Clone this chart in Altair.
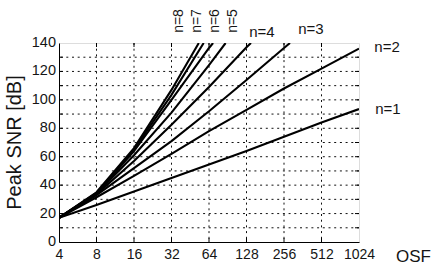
import altair as alt
import pandas as pd

# ---- data ----
osf_ticks = [4, 8, 16, 32, 64, 128, 256, 512, 1024]
y_ticks = [0, 20, 40, 60, 80, 100, 120, 140]
y_grid = [10, 20, 30, 40, 50, 60, 70, 80, 90, 100, 110, 120, 130]
x_grid = [8, 16, 32, 64, 128, 256, 512]

n1_osf = [4, 8, 16, 32, 64, 128, 256, 512, 1024]
n1_snr = [17, 26, 35.5, 45, 54.5, 64, 74, 84, 93.5]
n2_osf = [4, 8, 16, 32, 64, 128, 256, 512, 1024]
n2_snr = [17, 31.5, 46.5, 62, 78, 93, 108, 122, 136]
n3_osf = [4, 8, 16, 32, 64, 128, 256, 286]
n3_snr = [17, 33, 52, 71, 92, 114, 136.5, 140]
n4_osf = [4, 8, 16, 32, 64, 128, 139]
n4_snr = [17, 33.5, 57, 82.5, 109, 137, 140]
n5_osf = [4, 8, 16, 32, 64, 87]
n5_snr = [17, 34, 61, 91, 124.5, 140]
n6_osf = [4, 8, 16, 32, 64, 69]
n6_snr = [17, 34, 64, 100, 136.5, 140]
n7_osf = [4, 8, 16, 32, 58]
n7_snr = [17, 34.5, 65, 103.5, 140]
n8_osf = [4, 8, 16, 32, 53]
n8_snr = [17, 35, 66, 107, 140]

# label anchors in data units (OSF, dB)
hlab_text = ["n=1", "n=2", "n=3", "n=4"]
hlab_osf = [1746, 1720, 421, 170]
hlab_snr = [93.6, 137.2, 149.8, 147.7]
vlab_text = ["n=5", "n=6", "n=7", "n=8"]
vlab_osf = [99.7, 71.5, 51.3, 36.8]
vlab_snr = [155.5, 155.5, 155.5, 155.5]

series = [
    (1, n1_osf, n1_snr), (2, n2_osf, n2_snr), (3, n3_osf, n3_snr),
    (4, n4_osf, n4_snr), (5, n5_osf, n5_snr), (6, n6_osf, n6_snr),
    (7, n7_osf, n7_snr), (8, n8_osf, n8_snr),
]
rows = []
for n, xs, ys in series:
    for i, (x, y) in enumerate(zip(xs, ys)):
        rows.append({"n": n, "osf": x, "snr": y, "i": i})
df = pd.DataFrame(rows)

hlab = pd.DataFrame({"t": hlab_text, "osf": hlab_osf, "snr": hlab_snr})
vlab = pd.DataFrame({"t": vlab_text, "osf": vlab_osf, "snr": vlab_snr})
xg = pd.DataFrame({"osf": x_grid})
yg = pd.DataFrame({"snr": y_grid})
yl = pd.DataFrame({"snr": y_ticks, "t": [str(v) for v in y_ticks]})

FONT = "Liberation Sans"
INK = "#151515"

xscale = alt.Scale(type="log", base=2, domain=[4, 1024], nice=False)
yscale = alt.Scale(domain=[0, 140], nice=False)

xaxis = alt.Axis(
    values=osf_ticks, format="d", title="OSF", grid=False,
    ticks=False, labelPadding=5, labelFontSize=14, labelFont=FONT,
    labelColor=INK, domainColor="black", labelOverlap=False, labelFlush=False,
    titleFont=FONT, titleFontSize=17, titleFontWeight="normal", titleColor=INK,
    titleAnchor="start", titleAlign="center", titleBaseline="middle",
    titleX=354, titleY=14,
)
yaxis = alt.Axis(
    values=y_ticks, title="Peak SNR [dB]", grid=False, labels=False,
    ticks=False, domainColor="black",
    titleFont=FONT, titleFontSize=20, titleFontWeight="normal", titleColor=INK,
    titleX=-45, titleY=99, titleAlign="center", titleBaseline="middle",
)

grid_style = dict(color="#111", strokeWidth=1, strokeDash=[2, 3.7])
tick_style = dict(color="#000", strokeWidth=1)

vgrid = alt.Chart(xg).mark_rule(**grid_style).encode(
    x=alt.X("osf:Q", scale=xscale, axis=xaxis)
)
hgrid = alt.Chart(yg).mark_rule(**grid_style).encode(
    y=alt.Y("snr:Q", scale=yscale, axis=yaxis)
)

# small inward tick marks on all four frame sides
yt_left = alt.Chart(yg).mark_rule(**tick_style).encode(
    y=alt.Y("snr:Q", scale=yscale), x=alt.value(0), x2=alt.value(4)
)
yt_right = alt.Chart(yg).mark_rule(**tick_style).encode(
    y=alt.Y("snr:Q", scale=yscale), x=alt.value(296), x2=alt.value(300)
)
xt_bottom = alt.Chart(xg).mark_rule(**tick_style).encode(
    x=alt.X("osf:Q", scale=xscale), y=alt.value(195), y2=alt.value(199)
)
xt_top = alt.Chart(xg).mark_rule(**tick_style).encode(
    x=alt.X("osf:Q", scale=xscale), y=alt.value(0), y2=alt.value(4)
)

ylabels = alt.Chart(yl).mark_text(
    font=FONT, fontSize=14.5, color=INK, align="right", baseline="middle", dx=-3
).encode(x=alt.value(0), y=alt.Y("snr:Q", scale=yscale), text="t:N")

lines = alt.Chart(df).mark_line(color="black", strokeWidth=2.1, clip=True).encode(
    x=alt.X("osf:Q", scale=xscale),
    y=alt.Y("snr:Q", scale=yscale),
    detail="n:N",
    order="i:Q",
)

htext = alt.Chart(hlab).mark_text(
    font=FONT, fontSize=15, color=INK, align="center", baseline="middle"
).encode(x=alt.X("osf:Q", scale=xscale), y=alt.Y("snr:Q", scale=yscale), text="t:N")

vtext = alt.Chart(vlab).mark_text(
    font=FONT, fontSize=14, color=INK, align="center", baseline="middle", angle=270
).encode(x=alt.X("osf:Q", scale=xscale), y=alt.Y("snr:Q", scale=yscale), text="t:N")

chart = alt.layer(
    vgrid, hgrid, yt_left, yt_right, xt_bottom, xt_top, ylabels, lines, htext, vtext
).properties(
    width=300, height=199,
    autosize=alt.AutoSizeParams(type="none"),
    padding={"left": 59, "top": 43, "right": 72, "bottom": 22},
).configure_view(stroke="black", strokeWidth=1.2).configure(background="white")

chart.save("out.html", embed_options={"renderer": "svg", "actions": False})
